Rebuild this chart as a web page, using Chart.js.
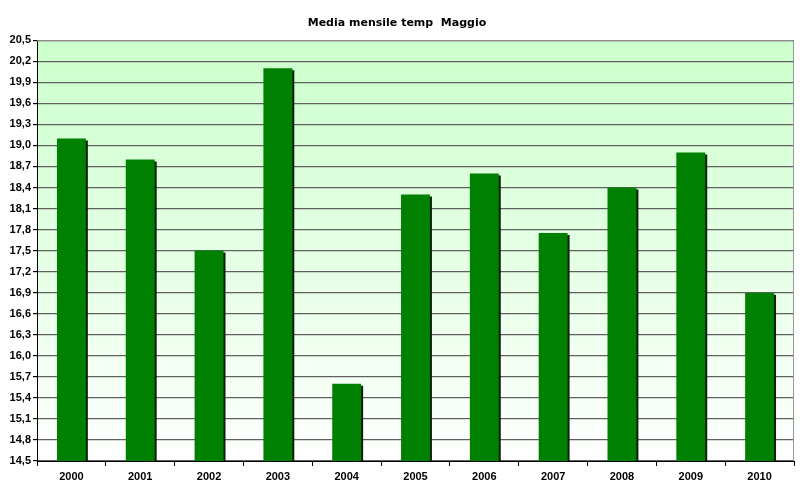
<!DOCTYPE html>
<html><head><meta charset="utf-8">
<script src="https://cdn.jsdelivr.net/npm/chart.js@4/dist/chart.umd.min.js"></script>
<style>html,body{margin:0;padding:0;background:#fff}#wrap{width:800px;height:495px}</style>
</head><body><div id="wrap"><canvas id="c"></canvas></div>
<script>
const years = ['2000','2001','2002','2003','2004','2005','2006','2007','2008','2009','2010'];
const tempMaggio = [19.1, 18.8, 17.5, 20.1, 15.6, 18.3, 18.6, 17.75, 18.4, 18.9, 16.9];
const chartTitle = 'Media mensile temp  Maggio';
const yMin = 14.5, yMax = 20.5, yStep = 0.3;

const bgPlugin = {
  id: 'bg',
  beforeDraw(chart) {
    const {ctx, chartArea: a} = chart;
    const g = ctx.createLinearGradient(0, a.top, 0, a.bottom);
    g.addColorStop(0, '#ccffcc');
    g.addColorStop(0.55, '#e6ffe6');
    g.addColorStop(1, '#ffffff');
    ctx.save();
    ctx.fillStyle = g;
    ctx.fillRect(a.left, a.top, a.right - a.left, a.bottom - a.top);
    ctx.restore();
  },
  afterDraw(chart) {
    const {ctx, chartArea: a} = chart;
    ctx.save();
    ctx.strokeStyle = '#999999';
    ctx.lineWidth = 1;
    ctx.beginPath();
    ctx.moveTo(a.left, a.top + 0.5); ctx.lineTo(a.right - 0.5, a.top + 0.5); ctx.lineTo(a.right - 0.5, a.bottom);
    ctx.stroke();
    ctx.restore();
  }
};
const shadowPlugin = {
  id: 'shadow',
  beforeDatasetsDraw(chart) {
    const ctx = chart.ctx;
    ctx.save();
    ctx.shadowColor = 'rgba(0,20,0,0.95)';
    ctx.shadowOffsetX = 2;
    ctx.shadowOffsetY = 2;
    ctx.shadowBlur = 0;
  },
  afterDatasetsDraw(chart) { chart.ctx.restore(); }
};

new Chart(document.getElementById('c'), {
  type: 'bar',
  data: {
    labels: years,
    datasets: [{
      data: tempMaggio,
      backgroundColor: '#008000',
      borderWidth: 0,
      barPercentage: 0.42,
      categoryPercentage: 1.0
    }]
  },
  options: {
    responsive: true,
    maintainAspectRatio: false,
    animation: false,
    layout: { padding: { left: 0, right: 6, top: 0, bottom: 0 } },
    plugins: {
      legend: { display: false },
      tooltip: { enabled: false },
      title: {
        display: true,
        text: chartTitle,
        color: '#000',
        font: { family: 'DejaVu Sans, Verdana, sans-serif', size: 11, weight: 'bold' },
        padding: { top: 17, bottom: 10 }
      }
    },
    scales: {
      x: {
        grid: { display: true, drawOnChartArea: false, offset: true, color: '#000', tickLength: 5, tickColor: '#000' },
        border: { color: '#000', width: 1 },
        ticks: {
          color: '#000',
          font: { family: 'Liberation Sans, Arial, sans-serif', size: 11, weight: 'bold' },
          padding: 4,
          maxRotation: 0
        },
        afterFit(s) { s.height = 34; }
      },
      y: {
        min: yMin, max: yMax,
        grid: { color: '#606060', lineWidth: 1.2, tickLength: 4, tickColor: '#000' },
        border: { color: '#000', width: 1 },
        ticks: {
          stepSize: yStep,
          color: '#000',
          font: { family: 'Liberation Sans, Arial, sans-serif', size: 11, weight: 'bold' },
          padding: 2,
          callback: v => Number(v).toFixed(1).replace('.', ',')
        },
        afterFit(s) { s.width = 37; }
      }
    }
  },
  plugins: [bgPlugin, shadowPlugin]
});
</script></body></html>
